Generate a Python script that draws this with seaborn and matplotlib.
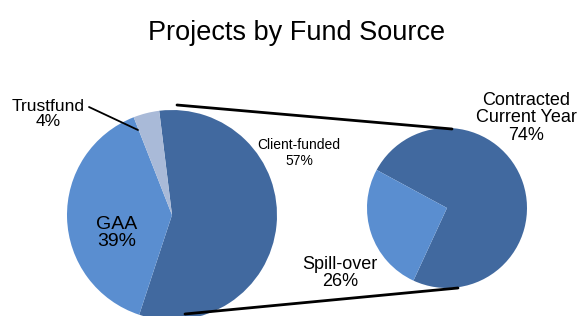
import matplotlib
matplotlib.use("Agg")
import matplotlib.pyplot as plt
import seaborn as sns

# main pie
fund_labels = ["Client-funded", "GAA", "Trustfund"]
fund_share = [57, 39, 4]
# breakdown of client-funded
client_labels = ["Contracted\nCurrent Year", "Spill-over"]
client_share = [74, 26]

dark = "#41699F"
mid = "#5A8ED0"
light = "#A9BAD8"

sns.set_theme(style="white")
plt.rcParams["font.family"] = ["Liberation Sans", "DejaVu Sans"]
plt.rcParams["text.color"] = "black"

H = 316


def py(y):
    # pixel row (from top) to data y
    return H - y


fig = plt.figure(figsize=(5.82, 3.16), dpi=100)
ax = fig.add_axes([0, 0, 1, 1])

ax.pie(fund_share, colors=[dark, mid, light], startangle=97, counterclock=False,
       center=(172, py(215)), radius=105, wedgeprops=dict(linewidth=0), frame=True)
ax.pie(client_share, colors=[dark, mid], startangle=151.6, counterclock=False,
       center=(447, py(208)), radius=80, wedgeprops=dict(linewidth=0), frame=True)
ax.set_xlim(0, 582)
ax.set_ylim(0, H)
ax.set_aspect("equal")
ax.axis("off")

# connector lines
ax.plot([177, 452], [py(105), py(129)], color="black", lw=2)
ax.plot([185, 458], [py(314), py(288)], color="black", lw=2)
# leader for trustfund
ax.plot([89, 138], [py(107), py(130)], color="black", lw=1.3)

ax.text(297, py(33), "Projects by Fund Source", ha="center", va="center", fontsize=19.5)
ax.text(48, py(114), fund_labels[2] + "\n" + str(fund_share[2]) + "%", ha="center",
        va="center", fontsize=12.5, linespacing=1.05)
ax.text(299, py(153), fund_labels[0] + "\n" + str(fund_share[0]) + "%", ha="center",
        va="center", fontsize=10, linespacing=1.1)
ax.text(117, py(233), fund_labels[1] + "\n" + str(fund_share[1]) + "%", ha="center",
        va="center", fontsize=14, linespacing=1.05)
ax.text(340, py(273), client_labels[1] + "\n" + str(client_share[1]) + "%", ha="center",
        va="center", fontsize=13, linespacing=1.05)
ax.text(526, py(118), client_labels[0] + "\n" + str(client_share[0]) + "%", ha="center",
        va="center", fontsize=13, linespacing=1.05)

fig.savefig("out.png", dpi=100)
